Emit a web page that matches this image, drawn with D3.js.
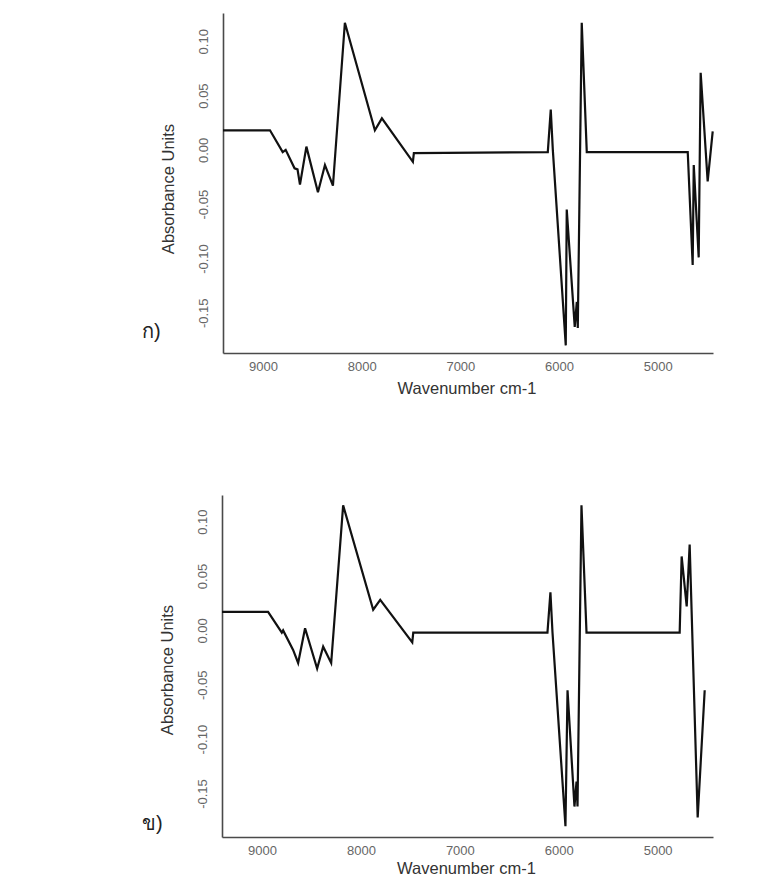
<!DOCTYPE html>
<html>
<head>
<meta charset="utf-8">
<script src="https://cdn.jsdelivr.net/npm/d3@7"></script>
<style>
  body { margin: 0; background: #fff; }
  svg { display: block; }
  text { font-family: "Liberation Sans", Arial, sans-serif; }
</style>
</head>
<body>
<svg id="chart" width="761" height="880"></svg>
<script>
// spectrum ก) : wavenumber (cm-1) and absorbance
var wnA = [9405, 8929, 8800, 8770, 8680, 8650, 8625, 8560, 8443, 8372, 8291, 8170, 7866, 7795, 7481, 7471,
           6114, 6084, 6063, 5932, 5922, 5841, 5820, 5810, 5770, 5719, 4696, 4646, 4635, 4585, 4565, 4494, 4443];
var absA = [0.018, 0.018, -0.002, 0.000, -0.017, -0.018, -0.032, 0.003, -0.039, -0.014, -0.033, 0.117, 0.018, 0.029, -0.011, -0.003,
            -0.002, 0.037, 0.000, -0.180, -0.055, -0.163, -0.140, -0.164, 0.117, -0.002, -0.002, -0.106, -0.014, -0.099, 0.071, -0.029, 0.017];

// spectrum ข)
var wnB = [9405, 8939, 8800, 8787, 8686, 8635, 8565, 8443, 8382, 8301, 8180, 7876, 7805, 7481, 7471,
           6114, 6084, 6063, 5932, 5911, 5841, 5820, 5810, 5770, 5719, 4777, 4757, 4706, 4676, 4595, 4524];
var absB = [0.017, 0.017, -0.002, 0.000, -0.018, -0.030, 0.002, -0.035, -0.015, -0.030, 0.115, 0.019, 0.028, -0.011, -0.002,
            -0.002, 0.035, -0.002, -0.180, -0.055, -0.162, -0.139, -0.162, 0.115, -0.002, -0.002, 0.068, 0.022, 0.079, -0.172, -0.055];

var xTicks = [9000, 8000, 7000, 6000, 5000];
var yTicks = [-0.15, -0.10, -0.05, 0.00, 0.05, 0.10];
var panelLabels = ["ก)", "ข)"];
var xTitle = "Wavenumber cm-1";
var yTitle = "Absorbance Units";

var svg = d3.select("#chart");

function drawPanel(wn, ab, box, label) {
  var x = d3.scaleLinear().domain([9405, 4440]).range([box.left, box.right]);
  var y = d3.scaleLinear().domain(box.ydom).range([box.bottom, box.top]);
  var g = svg.append("g");

  // x axis (only line + labels, no tick marks)
  var xa = g.append("g")
    .attr("transform", "translate(0," + box.bottom + ")")
    .call(d3.axisBottom(x).tickValues(xTicks).tickSize(0).tickSizeOuter(0).tickPadding(9)
      .tickFormat(function(d) { return d; }));
  xa.select(".domain").attr("stroke", "#4a4a4a").attr("stroke-width", 1.6);
  xa.selectAll("text").attr("font-size", 13).attr("fill", "#666")
    .attr("font-family", "'Liberation Sans', Arial, sans-serif");

  // y axis, labels parallel to the axis
  var ya = g.append("g")
    .attr("transform", "translate(" + box.left + ",0)")
    .call(d3.axisLeft(y).tickValues(yTicks).tickSize(0).tickSizeOuter(0)
      .tickFormat(function(d) { return d.toFixed(2); }));
  ya.select(".domain").attr("stroke", "#4a4a4a").attr("stroke-width", 1.6);
  ya.selectAll("text")
    .attr("x", 0).attr("y", 0).attr("dy", "0.35em")
    .attr("text-anchor", "middle")
    .attr("transform", "translate(-20,0) rotate(-90)")
    .attr("font-size", 13).attr("fill", "#666")
    .attr("font-family", "'Liberation Sans', Arial, sans-serif");

  var line = d3.line()
    .x(function(d, i) { return x(wn[i]); })
    .y(function(d) { return y(d); });

  g.append("path")
    .datum(ab)
    .attr("d", line)
    .attr("fill", "none")
    .attr("stroke", "#111")
    .attr("stroke-width", 2.2)
    .attr("stroke-linejoin", "miter");

  g.append("text")
    .attr("x", (box.left + box.right) / 2 - 1)
    .attr("y", box.bottom + box.titleOff)
    .attr("text-anchor", "middle")
    .attr("font-size", 16.5)
    .attr("fill", "#333")
    .text(xTitle);

  g.append("text")
    .attr("transform", "translate(" + (box.left - 49) + "," + (box.titleY) + ") rotate(-90)")
    .attr("text-anchor", "middle")
    .attr("font-size", 16.5)
    .attr("fill", "#333")
    .text(yTitle);

  g.append("text")
    .attr("x", 142)
    .attr("y", box.labelY)
    .attr("font-size", 20)
    .attr("fill", "#222")
    .attr("font-family", "'Noto Sans Thai', 'Noto Sans', 'DejaVu Sans', sans-serif")
    .text(label);
}

drawPanel(wnA, absA, {left: 223, right: 713, top: 13, bottom: 353, ydom: [-0.187, 0.126], titleY: 189, labelY: 338, titleOff: 41}, panelLabels[0]);
drawPanel(wnB, absB, {left: 222, right: 713, top: 495, bottom: 837, ydom: [-0.190, 0.1245], titleY: 670, labelY: 830, titleOff: 37}, panelLabels[1]);
</script>
</body>
</html>
